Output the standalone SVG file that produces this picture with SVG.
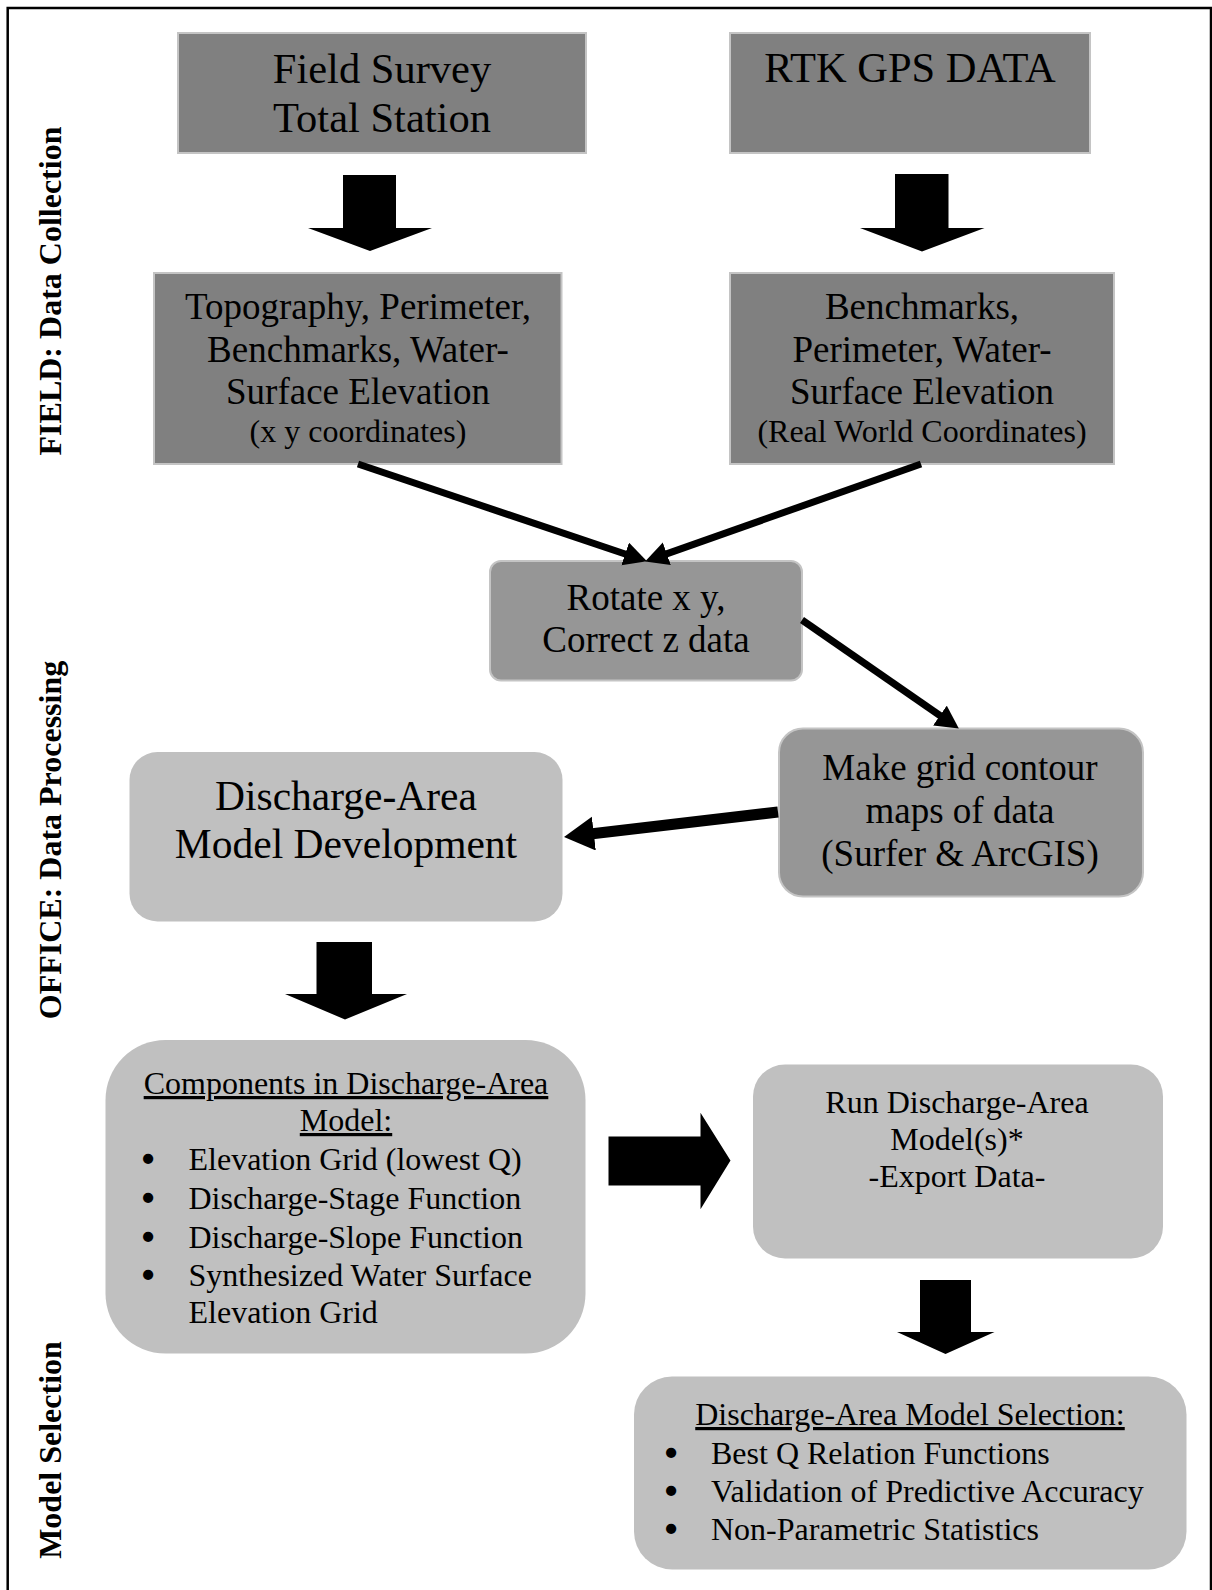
<svg xmlns="http://www.w3.org/2000/svg" width="1212" height="1590" viewBox="0 0 1212 1590">
<defs>
<style>
text{font-family:"Liberation Serif","Times New Roman",serif;fill:#000}
.t42{font-size:42.5px;text-anchor:middle}
.t41{font-size:41.5px;text-anchor:middle}
.t37{font-size:37px;text-anchor:middle}
.t32c{font-size:32px;text-anchor:middle}
.t32{font-size:32px}
.bul{font-size:32px;text-anchor:middle;stroke:#000;stroke-width:2.6}
.ul{text-decoration:underline}
.side{font-size:32px;font-weight:bold;text-anchor:middle}
.dark{fill:#808080;stroke:#c4c4c4;stroke-width:2}
.mid{fill:#969696;stroke:#c4c4c4;stroke-width:2}
.light{fill:#c0c0c0;stroke:none}
.ln{stroke:#000;stroke-width:7;fill:none}
.lnL{stroke:#000;stroke-width:11;fill:none}
.blk{fill:#000}
</style>
<marker id="ah" markerUnits="userSpaceOnUse" markerWidth="26" markerHeight="26" refX="7" refY="12" orient="auto"><path d="M0,0 L23,12 L0,24 z" fill="#000"/></marker>
<marker id="ahL" markerUnits="userSpaceOnUse" markerWidth="32" markerHeight="36" refX="10" refY="17" orient="auto"><path d="M0,0 L30,17 L0,34 z" fill="#000"/></marker>
</defs>
<rect x="0" y="0" width="1212" height="1590" fill="#fff"/>
<rect x="7.7" y="8" width="1203.3" height="1600" fill="none" stroke="#000" stroke-width="2.5"/>

<g id="labels">
<text class="side" transform="translate(61,291) rotate(-90)">FIELD: Data Collection</text>
<text class="side" transform="translate(61,840) rotate(-90)">OFFICE: Data Processing</text>
<text class="side" transform="translate(61,1450) rotate(-90)">Model Selection</text>
</g>

<g id="n-field-survey">
<rect class="dark" x="178" y="33" width="408" height="120"/>
<text class="t42" x="382" y="83">Field Survey</text>
<text class="t42" x="382" y="132">Total Station</text>
</g>
<g id="n-rtk">
<rect class="dark" x="730" y="33" width="360" height="120"/>
<text class="t42" x="910" y="82">RTK GPS DATA</text>
</g>
<g id="n-topo">
<rect class="dark" x="154" y="273" width="407.5" height="191"/>
<text class="t37" x="358" y="319">Topography, Perimeter,</text>
<text class="t37" x="358" y="361.5">Benchmarks, Water-</text>
<text class="t37" x="358" y="403.5">Surface Elevation</text>
<text class="t32c" x="358" y="441.5">(x y coordinates)</text>
</g>
<g id="n-bench">
<rect class="dark" x="730" y="273" width="384" height="191"/>
<text class="t37" x="922" y="318.5">Benchmarks,</text>
<text class="t37" x="922" y="361.5">Perimeter, Water-</text>
<text class="t37" x="922" y="403.5">Surface Elevation</text>
<text class="t32c" x="922" y="441.5">(Real World Coordinates)</text>
</g>
<g id="n-rotate">
<rect class="mid" x="490" y="561" width="312" height="119.5" rx="11"/>
<text class="t37" x="646" y="610">Rotate x y,</text>
<text class="t37" x="646" y="652">Correct z data</text>
</g>
<g id="n-grid">
<rect class="mid" x="779" y="728.5" width="364" height="168" rx="24"/>
<text class="t37" x="960" y="780">Make grid contour</text>
<text class="t37" x="960" y="823">maps of data</text>
<text class="t37" x="960" y="866">(Surfer &amp; ArcGIS)</text>
</g>
<g id="n-model-dev">
<rect class="light" x="129.5" y="752" width="433" height="169.5" rx="28"/>
<text class="t41" x="346" y="810">Discharge-Area</text>
<text class="t41" x="346" y="858">Model Development</text>
</g>
<g id="n-components">
<rect class="light" x="105.5" y="1040" width="480" height="313.5" rx="60"/>
<text class="t32c ul" x="346" y="1094">Components in Discharge-Area</text>
<text class="t32c ul" x="346" y="1131">Model:</text>
<text class="bul" x="148" y="1170">•</text>
<text class="t32" x="188.5" y="1170">Elevation Grid (lowest Q)</text>
<text class="bul" x="148" y="1209">•</text>
<text class="t32" x="188.5" y="1209">Discharge-Stage Function</text>
<text class="bul" x="148" y="1247.5">•</text>
<text class="t32" x="188.5" y="1247.5">Discharge-Slope Function</text>
<text class="bul" x="148" y="1286">•</text>
<text class="t32" x="188.5" y="1286">Synthesized Water Surface</text>
<text class="t32" x="188.5" y="1323">Elevation Grid</text>
</g>
<g id="n-run">
<rect class="light" x="753" y="1064.5" width="410" height="194" rx="32"/>
<text class="t32c" x="957" y="1113">Run Discharge-Area</text>
<text class="t32c" x="957" y="1150">Model(s)*</text>
<text class="t32c" x="957" y="1187">-Export Data-</text>
</g>
<g id="n-selection">
<rect class="light" x="634" y="1376.5" width="552.5" height="193" rx="38"/>
<text class="t32c ul" x="910" y="1425">Discharge-Area Model Selection:</text>
<text class="bul" x="671" y="1463.5">•</text>
<text class="t32" x="711" y="1463.5">Best Q Relation Functions</text>
<text class="bul" x="671" y="1502">•</text>
<text class="t32" x="711" y="1502">Validation of Predictive Accuracy</text>
<text class="bul" x="671" y="1540">•</text>
<text class="t32" x="711" y="1540">Non-Parametric Statistics</text>
</g>

<g id="connectors">
<polygon class="blk" points="343,175 396,175 396,228 432,228 370,251 308,228 343,228"/>
<polygon class="blk" points="895,174 948.5,174 948.5,228 984.5,228 922,251.5 860,228 895,228"/>
<path class="ln" d="M358,464 L631.8,556.2" marker-end="url(#ah)"/>
<path class="ln" d="M921,464 L660.2,556.1" marker-end="url(#ah)"/>
<path class="ln" d="M802,620 L945.7,719.5" marker-end="url(#ah)"/>
<path class="lnL" d="M778,812 L583.9,834.7" marker-end="url(#ahL)"/>
<polygon class="blk" points="316.5,942 372,942 372,994 407,994 345,1019.5 285,994 316.5,994"/>
<polygon class="blk" points="608.5,1136.5 700.5,1136.5 700.5,1112.7 730.5,1160.5 700.5,1209.3 700.5,1185.5 608.5,1185.5"/>
<polygon class="blk" points="920,1280 971,1280 971,1332 994.5,1332 945.5,1354 897,1332 920,1332"/>
</g>
</svg>
